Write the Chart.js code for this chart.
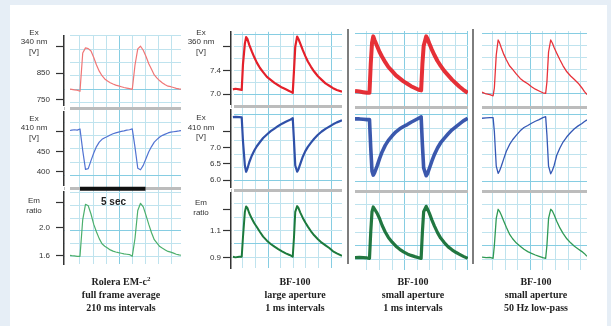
<!DOCTYPE html>
<html>
<head>
<meta charset="utf-8">
<script src="https://cdn.jsdelivr.net/npm/chart.js@4.4.1/dist/chart.umd.min.js"></script>
<style>
  html, body { margin: 0; padding: 0; }
  body { width: 611px; height: 326px; background: #e6eef6; position: relative; overflow: hidden; }
  #sheet { position: absolute; left: 10px; top: 5px; width: 597px; height: 330px; background: #fff; }
  canvas { position: absolute; top: 25px; }
  .sep { position: absolute; top: 29px; height: 235px; width: 2px; background: #7d7d7d; }
  .cap { position: absolute; top: 275px; width: 140px; text-align: center; color: #222;
         font: bold 10px/13px "Liberation Serif", "Times New Roman", serif; }
  #barLabel { position: absolute; left: 101px; top: 196px; color: #222;
              font: bold 10px "Liberation Sans", Arial, sans-serif; }
</style>
</head>
<body>
<div id="sheet"></div>
<canvas id="rolera" width="172" height="250" style="left:10px"></canvas>
<canvas id="large" width="163" height="250" style="left:180px"></canvas>
<canvas id="small" width="114" height="250" style="left:355px"></canvas>
<canvas id="lowpass" width="106" height="250" style="left:482px"></canvas>
<div class="sep" style="left:347px"></div>
<div class="sep" style="left:472px"></div>
<div id="barLabel">5 sec</div>
<div class="cap" style="left:51px">Rolera EM-c<sup style="font-size:7px;line-height:0">2</sup><br>full frame average<br>210 ms intervals</div>
<div class="cap" style="left:225px">BF-100<br>large aperture<br>1 ms intervals</div>
<div class="cap" style="left:343px">BF-100<br>small aperture<br>1 ms intervals</div>
<div class="cap" style="left:466px">BF-100<br>small aperture<br>50 Hz low-pass</div>
<script>
// time in seconds, one array per column
const rolTime = [-0.76, -0.63, -0.42, -0.21, 0, 0.21, 0.42, 0.63, 0.84, 1.05, 1.26, 1.47, 1.68, 1.89, 2.1, 2.31, 2.52, 2.73, 2.94, 3.15, 3.36, 3.57, 3.78, 3.99, 4.2, 4.41, 4.62, 4.83, 5.04, 5.25, 5.46, 5.67, 5.88, 6.09, 6.3, 6.51, 6.72, 6.93, 7.14, 7.35, 7.56, 7.71];
const rolEx340 = [790, 789, 787, 786, 782, 925, 944, 941, 932, 908, 880, 857, 840, 828, 820, 814, 809, 805, 802, 799, 796, 794, 792, 789, 880, 940, 950, 935, 912, 885, 864, 843, 831, 821, 813, 806, 801, 799, 796, 793, 791, 790];
const rolEx410 = [502, 503, 504, 503, 506, 452, 405, 407, 427, 446, 462, 473, 480, 484, 487, 491, 494, 496, 498, 500, 501, 503, 504, 506, 460, 408, 404, 415, 432, 449, 462, 473, 480, 486, 490, 493, 496, 498, 499, 500, 501, 502];
const rolEm = [1.604, 1.600, 1.595, 1.590, 1.590, 2.12, 2.34, 2.32, 2.2, 2.05, 1.94, 1.845, 1.77, 1.735, 1.71, 1.682, 1.665, 1.652, 1.642, 1.634, 1.625, 1.62, 1.615, 1.59, 1.85, 2.25, 2.355, 2.303, 2.18, 2.05, 1.93, 1.83, 1.78, 1.73, 1.705, 1.682, 1.66, 1.65, 1.635, 1.62, 1.61, 1.605];

const largeTime = [-0.8, -0.6, -0.3, -0.1, 0, 0.15, 0.25, 0.35, 0.5, 0.7, 0.9, 1.1, 1.35, 1.6, 1.9, 2.2, 2.5, 2.8, 3.1, 3.4, 3.7, 3.95, 4.05, 4.15, 4.3, 4.4, 4.55, 4.75, 4.95, 5.15, 5.4, 5.65, 5.95, 6.25, 6.55, 6.85, 7.15, 7.45, 7.86];
const largeEx360 = [7.08, 7.09, 7.08, 7.07, 7.5, 7.85, 7.96, 7.93, 7.83, 7.72, 7.62, 7.53, 7.44, 7.37, 7.29, 7.24, 7.19, 7.15, 7.11, 7.08, 7.05, 7.02, 7.4, 7.8, 7.97, 7.93, 7.85, 7.74, 7.64, 7.55, 7.46, 7.38, 7.30, 7.24, 7.18, 7.14, 7.10, 7.07, 7.04];
const largeEx410 = [7.93, 7.94, 7.93, 7.92, 7.2, 6.45, 6.26, 6.35, 6.55, 6.75, 6.91, 7.04, 7.17, 7.29, 7.40, 7.50, 7.58, 7.66, 7.73, 7.79, 7.84, 7.90, 7.2, 6.45, 6.26, 6.33, 6.5, 6.72, 6.89, 7.02, 7.15, 7.27, 7.39, 7.49, 7.57, 7.64, 7.71, 7.77, 7.83];
const largeEm = [0.905, 0.90, 0.905, 0.905, 1.05, 1.24, 1.28, 1.27, 1.23, 1.19, 1.155, 1.127, 1.09, 1.055, 1.025, 1.0, 0.98, 0.962, 0.945, 0.93, 0.918, 0.905, 1.05, 1.24, 1.283, 1.27, 1.235, 1.195, 1.16, 1.13, 1.095, 1.065, 1.035, 1.01, 0.99, 0.97, 0.945, 0.93, 0.912];

const smallTime = [-0.95, -0.6, -0.3, 0, 0.2, 0.3, 0.4, 0.5, 0.6, 0.8, 1.0, 1.2, 1.45, 1.7, 2.0, 2.3, 2.6, 2.9, 3.2, 3.5, 3.8, 4.1, 4.3, 4.4, 4.5, 4.7, 4.8, 4.95, 5.15, 5.35, 5.6, 5.85, 6.15, 6.45, 6.75, 7.05, 7.35, 7.65, 8.0];
const smallEx360 = [7.05, 7.04, 7.03, 7.02, 7.02, 7.5, 7.85, 7.96, 7.9, 7.8, 7.7, 7.62, 7.53, 7.45, 7.38, 7.31, 7.26, 7.21, 7.17, 7.13, 7.10, 7.07, 7.06, 7.5, 7.8, 7.96, 7.92, 7.84, 7.74, 7.65, 7.55, 7.47, 7.38, 7.31, 7.24, 7.18, 7.12, 7.07, 7.02];
const smallEx410 = [7.88, 7.88, 7.87, 7.86, 7.86, 7.0, 6.3, 6.18, 6.25, 6.45, 6.68, 6.88, 7.08, 7.23, 7.37, 7.49, 7.58, 7.65, 7.71, 7.78, 7.84, 7.90, 7.94, 7.1, 6.4, 6.16, 6.22, 6.38, 6.6, 6.8, 7.0, 7.16, 7.3, 7.43, 7.55, 7.64, 7.73, 7.82, 7.9];
const smallEm = [0.91, 0.912, 0.91, 0.908, 0.905, 1.1, 1.25, 1.285, 1.27, 1.24, 1.2, 1.15, 1.1, 1.06, 1.025, 0.995, 0.972, 0.953, 0.938, 0.927, 0.918, 0.91, 0.905, 1.1, 1.25, 1.29, 1.27, 1.24, 1.19, 1.145, 1.095, 1.055, 1.02, 0.99, 0.968, 0.95, 0.935, 0.92, 0.905];

const lowTime = [-0.83, -0.5, -0.2, 0.05, 0.15, 0.3, 0.45, 0.55, 0.7, 0.9, 1.1, 1.35, 1.6, 1.9, 2.2, 2.5, 2.8, 3.1, 3.4, 3.7, 4.0, 4.22, 4.32, 4.45, 4.62, 4.75, 4.9, 5.1, 5.35, 5.6, 5.9, 6.2, 6.5, 6.8, 7.1, 7.3, 7.5];
const lowEx360 = [7.03, 7.0, 6.99, 6.97, 7.1, 7.65, 7.9, 7.86, 7.77, 7.66, 7.57, 7.47, 7.41, 7.33, 7.26, 7.21, 7.17, 7.12, 7.08, 7.05, 7.02, 7.01, 7.2, 7.7, 7.9, 7.85, 7.77, 7.68, 7.57, 7.47, 7.37, 7.3, 7.24, 7.18, 7.1, 7.04, 6.99];
const lowEx410 = [7.9, 7.91, 7.92, 7.92, 7.5, 6.45, 6.23, 6.3, 6.45, 6.68, 6.9, 7.1, 7.25, 7.39, 7.52, 7.62, 7.68, 7.75, 7.81, 7.86, 7.92, 7.95, 7.4, 6.45, 6.22, 6.32, 6.48, 6.78, 7.0, 7.18, 7.34, 7.47, 7.58, 7.67, 7.74, 7.8, 7.85];
const lowEm = [0.915, 0.91, 0.912, 0.905, 1.0, 1.2, 1.268, 1.255, 1.225, 1.18, 1.135, 1.085, 1.05, 1.018, 0.995, 0.972, 0.955, 0.942, 0.93, 0.92, 0.91, 0.905, 1.0, 1.2, 1.268, 1.255, 1.225, 1.18, 1.13, 1.09, 1.05, 1.02, 0.995, 0.975, 0.955, 0.94, 0.92];

// tick labels
const rolEx340Ticks = [750, 850];
const rolEx410Ticks = [400, 450];
const rolEmTicks = [1.6, 2.0];
const bfEx360Ticks = [7.0, 7.4];
const bfEx410Ticks = [6.0, 6.5, 7.0];
const bfEmTicks = [0.9, 1.1];
const scaleBar = [0, 5]; // the "5 sec" bar

const MINOR = '#bfe3ee';
const MAJOR = '#86cde2';
const NONE = 'rgba(0,0,0,0)';
const INK = '#333';
const near = (list, v) => list.some(u => Math.abs(u - v) < 1e-6);

const rolRows = [
  { weight: 73, min: 728.6, max: 989, grid: [739, 789, 839, 889, 939, 989], major: [789],
    labels: rolEx340Ticks, digits: 0, title: { value: 950, dy: -13.5, lines: ['Ex', '340 nm', '[V]'] } },
  { weight: 78, min: 364, max: 550, grid: [390, 423, 457, 490, 523], major: [390],
    labels: rolEx410Ticks, digits: 0, title: { value: 500, dy: -13, lines: ['Ex', '410 nm', '[V]'] } },
  { weight: 76, min: 1.476, max: 2.524, grid: [1.59, 1.78, 1.96, 2.14, 2.33, 2.51], major: [1.96],
    labels: rolEmTicks, digits: 1, title: { value: 2.37, dy: -1, lines: ['Em', 'ratio'] } }
];
const bfRows = [
  { weight: 73, min: 6.833, max: 8.05, grid: [7.0, 7.2, 7.4, 7.6, 7.8, 8.0], major: [7.0, 8.0],
    labels: bfEx360Ticks, digits: 1, title: { value: 7.8, dy: -14, lines: ['Ex', '360 nm', '[V]'] } },
  { weight: 78, min: 5.79, max: 8.15, grid: [6.0, 6.4, 6.8, 7.2, 7.6, 8.0], major: [6.0, 8.0],
    labels: bfEx410Ticks, digits: 1, title: { value: 7.5, dy: -13, lines: ['Ex', '410 nm', '[V]'] } },
  { weight: 76, min: 0.819, max: 1.381, grid: [0.9, 1.0, 1.1, 1.2, 1.3], major: [1.0],
    labels: bfEmTicks, digits: 1, title: { value: 1.26, dy: -6, lines: ['Em', 'ratio'] } }
];

function rowScale(row, col) {
  const shown = col.axisWidth > 0;
  const marks = shown ? [...row.labels, row.title.value] : [];
  const values = [...new Set([...row.grid, ...marks].map(v => +v.toFixed(4)))].sort((a, b) => a - b);
  return {
    type: 'linear', position: 'left', stack: 'rows', stackWeight: row.weight,
    min: row.min, max: row.max, bounds: 'data',
    border: { display: shown, color: INK, width: 1.5 },
    grid: {
      color: c => c.tick && near(row.grid, c.tick.value) ? (near(row.major, c.tick.value) ? MAJOR : MINOR) : NONE,
      tickColor: c => c.tick && near(marks, c.tick.value) ? INK : NONE,
      drawTicks: shown, tickLength: 8, tickWidth: 1.2
    },
    ticks: {
      display: shown, autoSkip: false, padding: col.tickPad, color: INK,
      font: { family: '"Liberation Sans", Arial, sans-serif', size: 8 },
      callback: v => near(row.labels, v) ? v.toFixed(row.digits) : ''
    },
    afterBuildTicks: s => { s.ticks = values.map(v => ({ value: v })); },
    afterFit: s => { s.width = col.axisWidth; }
  };
}

function gapScale(col) {
  return {
    type: 'linear', position: 'left', stack: 'rows', stackWeight: 6,
    min: 0, max: 1, border: { display: false },
    grid: { color: '#bcbcbc', lineWidth: 3, drawTicks: false, z: 0 },
    ticks: { display: false },
    afterBuildTicks: s => { s.ticks = [{ value: 0.5 }]; },
    afterFit: s => { s.width = col.axisWidth; }
  };
}

function gapPlugin(col) {
  return {
    id: 'axisGap',
    beforeDatasetsDraw(chart) {
      if (!col.gap) return;
      const a = chart.chartArea, ctx = chart.ctx;
      ctx.save();
      ctx.fillStyle = '#fff';
      ctx.fillRect(a.left + 1, a.top - 1, col.gap - 1, a.bottom - a.top + 2);
      ctx.restore();
    }
  };
}

function titlePlugin(col) {
  return {
    id: 'axisTitles',
    afterDraw(chart) {
      if (!col.axisWidth) return;
      const ctx = chart.ctx;
      ctx.save();
      ctx.font = '8px "Liberation Sans", Arial, sans-serif';
      ctx.fillStyle = INK;
      ctx.textAlign = 'center';
      ctx.textBaseline = 'middle';
      col.rows.forEach((row, i) => {
        const y = chart.scales['r' + (i + 1)].getPixelForValue(row.title.value) + row.title.dy;
        row.title.lines.forEach((line, k) => ctx.fillText(line, chart.chartArea.left - 30, y + k * 9.5));
      });
      ctx.restore();
    }
  };
}

function makeColumn(id, col) {
  const datasets = col.series.map((values, i) => ({
    data: col.time.map((t, k) => ({ x: t, y: values[k] })),
    yAxisID: 'r' + (i + 1),
    borderColor: col.colors[i],
    borderWidth: col.widths[i],
    borderJoinStyle: 'round',
    pointRadius: 0,
    tension: 0
  }));
  if (col.bar) {
    datasets.push({
      data: col.bar.map(t => ({ x: t, y: 0.5 })),
      yAxisID: 'g2', borderColor: '#111', borderWidth: 4, pointRadius: 0
    });
  }
  new Chart(document.getElementById(id), {
    type: 'line',
    data: { datasets },
    options: {
      responsive: false,
      animation: false,
      events: [],
      layout: { padding: { top: 6, bottom: 5, left: 0, right: 1 } },
      plugins: { legend: { display: false }, tooltip: { enabled: false } },
      scales: {
        x: {
          type: 'linear', min: col.xMin, max: col.xMax, bounds: 'data',
          border: { display: false },
          grid: {
            drawTicks: false,
            color: c => c.tick && Math.abs((((c.tick.value - col.majorX) % 5) + 5) % 5) < 1e-6 ? MAJOR : MINOR
          },
          ticks: { display: false },
          afterBuildTicks: s => {
            const t = [];
            for (let v = Math.ceil(s.min); v <= s.max; v++) t.push({ value: v });
            s.ticks = t;
          },
          afterFit: s => { s.height = 0; }
        },
        r3: rowScale(col.rows[2], col),
        g2: gapScale(col),
        r2: rowScale(col.rows[1], col),
        g1: gapScale(col),
        r1: rowScale(col.rows[0], col)
      }
    },
    plugins: [gapPlugin(col), titlePlugin(col)]
  });
}

makeColumn('rolera', {
  time: rolTime, series: [rolEx340, rolEx410, rolEm], rows: rolRows,
  xMin: -1.22, xMax: 7.71, majorX: 3, axisWidth: 54, tickPad: 6, gap: 6,
  colors: ['#f07676', '#5273d2', '#4caf6c'], widths: [1.2, 1.2, 1.2], bar: scaleBar
});
makeColumn('large', {
  time: largeTime, series: [largeEx360, largeEx410, largeEm], rows: bfRows,
  xMin: -0.95, xMax: 7.86, majorX: 2, axisWidth: 51, tickPad: 2, gap: 3,
  colors: ['#e4202a', '#2f50a8', '#1c7a3c'], widths: [2.2, 2.2, 2]
});
makeColumn('small', {
  time: smallTime, series: [smallEx360, smallEx410, smallEm], rows: bfRows,
  xMin: -0.95, xMax: 8.02, majorX: 3, axisWidth: 0, tickPad: 0, gap: 0,
  colors: ['rgba(228,30,38,0.92)', 'rgba(42,74,166,0.92)', 'rgba(15,107,48,0.92)'], widths: [4, 3.6, 3.2]
});
makeColumn('lowpass', {
  time: lowTime, series: [lowEx360, lowEx410, lowEm], rows: bfRows,
  xMin: -0.83, xMax: 7.5, majorX: 3, axisWidth: 0, tickPad: 0, gap: 0,
  colors: ['#e8323a', '#3558b5', '#2f9a55'], widths: [1.3, 1.3, 1.3]
});
</script>
</body>
</html>
